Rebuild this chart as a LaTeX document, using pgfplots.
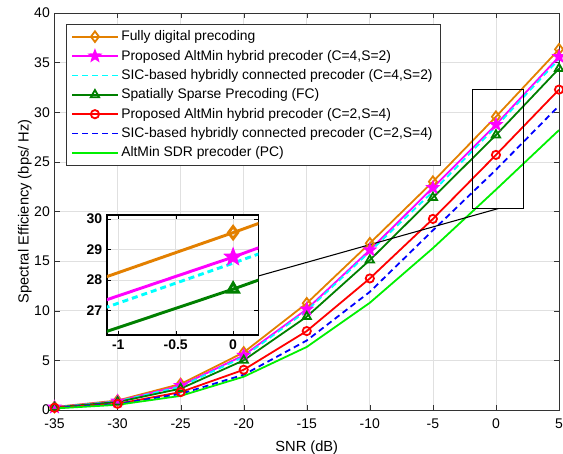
\documentclass[border=0pt]{standalone}
\usepackage{pgfplots}
\pgfplotsset{compat=1.18}
\usepackage{pgfplotstable}
\usepackage{fontspec}
\setmainfont{Liberation Sans}
\usetikzlibrary{plotmarks}

\definecolor{morange}{RGB}{227,128,0}
\definecolor{mgreen}{RGB}{0,128,0}
\definecolor{mmag}{RGB}{255,0,255}
\definecolor{mcyan}{RGB}{0,255,255}
\definecolor{mred}{RGB}{255,0,0}
\definecolor{mblue}{RGB}{0,0,255}
\definecolor{mlime}{RGB}{0,240,0}

% filled five-point star
\pgfdeclareplotmark{fstar}{%
  \pgfpathmoveto{\pgfpointpolar{90}{\pgfplotmarksize}}%
  \pgfpathlineto{\pgfpointpolar{126}{0.42\pgfplotmarksize}}%
  \pgfpathlineto{\pgfpointpolar{162}{\pgfplotmarksize}}%
  \pgfpathlineto{\pgfpointpolar{198}{0.42\pgfplotmarksize}}%
  \pgfpathlineto{\pgfpointpolar{234}{\pgfplotmarksize}}%
  \pgfpathlineto{\pgfpointpolar{270}{0.42\pgfplotmarksize}}%
  \pgfpathlineto{\pgfpointpolar{306}{\pgfplotmarksize}}%
  \pgfpathlineto{\pgfpointpolar{342}{0.42\pgfplotmarksize}}%
  \pgfpathlineto{\pgfpointpolar{18}{\pgfplotmarksize}}%
  \pgfpathlineto{\pgfpointpolar{54}{0.42\pgfplotmarksize}}%
  \pgfpathclose
  \pgfusepathqfillstroke}

\pgfplotstableread{
x    fd    am42  sic42 ss    am24  sic24 sdr
-35  0.30  0.28  0.26  0.25  0.22  0.20  0.15
-30  0.95  0.88  0.85  0.80  0.62  0.60  0.52
-25  2.62  2.45  2.35  2.15  1.80  1.62  1.42
-20  5.80  5.50  5.35  5.00  4.05  3.55  3.35
-15  10.75 10.15 10.00 9.40  7.95  7.00  6.35
-10  16.80 16.12 15.95 15.10 13.25 11.90 10.80
-5   23.00 22.40 22.00 21.40 19.25 18.10 16.30
0    29.55 28.75 28.55 27.70 25.70 24.20 22.20
5    36.34 35.60 35.35 34.40 32.28 30.65 28.20
}\se

\pgfplotsset{
  fdS/.style={morange, mark=diamond, mark size=4pt, mark options={solid, fill=none}},
  am42S/.style={mmag, mark=fstar, mark size=4pt, mark options={solid, fill=mmag}},
  sic42S/.style={mcyan, dashed, dash pattern=on 4.5pt off 3pt},
  ssS/.style={mgreen, mark=triangle, mark size=3.6pt, mark options={solid}},
  am24S/.style={mred, mark=o, mark size=3.1pt, mark options={solid}},
  sic24S/.style={mblue, dashed, dash pattern=on 4.5pt off 3pt},
  sdrS/.style={mlime},
}

\begin{document}
\begin{tikzpicture}
\begin{axis}[
  scale only axis, width=378.4pt, height=297.75pt,
  xmin=-35, xmax=5, ymin=0, ymax=40,
  xtick={-35,-30,...,5}, ytick={0,5,...,40},
  grid=major, grid style={black!12, line width=0.5pt},
  axis line style={black!80}, tick style={black!80},
  major tick length=4pt,
  /pgf/number format/assume math mode=true,
  ticklabel style={font=\fontsize{10.5}{12}\selectfont},
  xticklabel shift=3pt,
  label style={font=\fontsize{11}{13}\selectfont},
  xlabel={SNR (dB)}, ylabel={Spectral Efficiency (bps/ Hz)},
  xlabel shift=2pt, ylabel shift=-5pt,
  every axis plot/.append style={line width=1.35pt},
  legend style={at={(0.022,0.9715)}, anchor=north west,
    font=\fontsize{10.4}{12}\selectfont, draw=black!80, line width=0.5pt,
    cells={anchor=west}, row sep=1.5pt, inner xsep=4pt, inner ysep=2.5pt},
  legend image code/.code={%
    \draw[mark repeat=2, mark phase=2, #1]
      plot coordinates {(0cm,0cm) (0.6cm,0cm) (1.2cm,0cm)};},
]
\addplot[fdS] table[x=x, y=fd] {\se};
\addlegendentry{Fully digital precoding}
\addplot[am42S] table[x=x, y=am42] {\se};
\addlegendentry{Proposed AltMin hybrid precoder (C=4,S=2)}
\addplot[sic42S] table[x=x, y=sic42] {\se};
\addlegendentry{SIC-based hybridly connected precoder (C=4,S=2)}
\addplot[ssS] table[x=x, y=ss] {\se};
\addlegendentry{Spatially Sparse Precoding (FC)}
\addplot[am24S] table[x=x, y=am24] {\se};
\addlegendentry{Proposed AltMin hybrid precoder (C=2,S=4)}
\addplot[sic24S] table[x=x, y=sic24] {\se};
\addlegendentry{SIC-based hybridly connected precoder (C=2,S=4)}
\addplot[sdrS] table[x=x, y=sdr] {\se};
\addlegendentry{AltMin SDR precoder (PC)}

\draw[black, line width=0.8pt] (axis cs:-1.85,20.3) rectangle (axis cs:2.2,32.3);
\draw[black, line width=0.8pt] (axis cs:-18.84,13.5) -- (axis cs:0.2,20.3);
\coordinate (insSW) at (axis cs:-30.86,7.56);
\coordinate (mSW) at (rel axis cs:0,0);
\coordinate (mNE) at (rel axis cs:1,1);
\end{axis}

\begin{axis}[
  at={(insSW)}, anchor=south west,
  scale only axis, width=113.7pt, height=90pt,
  xmin=-1.1, xmax=0.22, ymin=26.2, ymax=30.13,
  xtick={-1,-0.5,0}, ytick={27,28,29,30},
  grid=major, grid style={black!12, line width=0.5pt},
  axis background/.style={fill=white},
  axis line style={black, line width=1.2pt}, tick style={black},
  major tick length=3pt,
  /pgf/number format/assume math mode=true,
  ticklabel style={font=\bfseries\fontsize{10.5}{12}\selectfont},
  every axis plot/.append style={line width=2.2pt},
]
\addplot[fdS, mark size=4.6pt] table[x=x, y=fd] {\se};
\addplot[am42S, mark size=4.8pt] table[x=x, y=am42] {\se};
\addplot[sic42S] table[x=x, y=sic42] {\se};
\addplot[ssS, mark size=4.6pt] table[x=x, y=ss] {\se};
\end{axis}

\pgfresetboundingbox
\path ([shift={(-40.9pt,-33pt)}]mSW) rectangle ([shift={(3pt,9.75pt)}]mNE);
\end{tikzpicture}
\end{document}
